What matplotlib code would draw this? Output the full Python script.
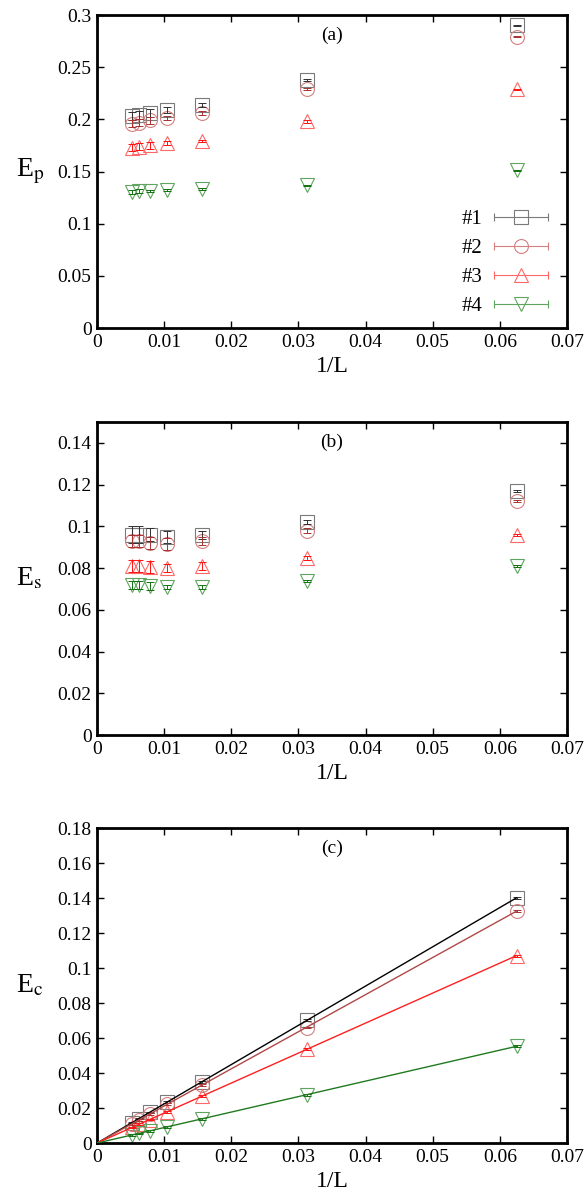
import numpy as np
import matplotlib
matplotlib.use("Agg")
import matplotlib.pyplot as plt
from matplotlib.lines import Line2D
from matplotlib.legend_handler import HandlerLine2D, HandlerTuple

plt.rcParams['font.family'] = ['Liberation Serif', 'DejaVu Serif']
plt.rcParams['mathtext.fontset'] = 'stix'

# system sizes, x axis is 1/L
L = [192, 160, 128, 96, 64, 32, 16]
inv_L = [1.0 / l for l in L]

labels = ['#1', '#2', '#3', '#4']

# (a) E_p
ep = [
    [0.203, 0.204, 0.206, 0.209, 0.214, 0.238, 0.290],
    [0.196, 0.197, 0.199, 0.201, 0.206, 0.229, 0.279],
    [0.173, 0.174, 0.175, 0.177, 0.179, 0.198, 0.229],
    [0.130, 0.131, 0.131, 0.132, 0.133, 0.137, 0.151],
]
ep_err = [
    [0.004, 0.004, 0.004, 0.003, 0.002, 0.001, 0.0005],
    [0.003, 0.003, 0.003, 0.002, 0.002, 0.001, 0.0005],
    [0.003, 0.003, 0.003, 0.002, 0.001, 0.001, 0.0005],
    [0.002, 0.002, 0.001, 0.001, 0.001, 0.0005, 0.0005],
]

# (b) E_s
es = [
    [0.096, 0.096, 0.096, 0.095, 0.096, 0.102, 0.117],
    [0.093, 0.093, 0.092, 0.0915, 0.093, 0.098, 0.112],
    [0.081, 0.081, 0.0805, 0.080, 0.081, 0.085, 0.096],
    [0.072, 0.072, 0.0715, 0.071, 0.071, 0.074, 0.081],
]
es_err = [
    [0.004, 0.004, 0.003, 0.003, 0.002, 0.001, 0.0005],
    [0.003, 0.003, 0.003, 0.003, 0.002, 0.001, 0.0005],
    [0.003, 0.003, 0.003, 0.002, 0.002, 0.001, 0.0005],
    [0.002, 0.002, 0.002, 0.001, 0.001, 0.0005, 0.0005],
]

# (c) E_c
ec = [
    [0.0117, 0.0140, 0.0175, 0.0234, 0.0350, 0.0703, 0.1400],
    [0.0110, 0.0133, 0.0166, 0.0221, 0.0331, 0.0660, 0.1326],
    [0.0089, 0.0107, 0.0134, 0.0178, 0.0268, 0.0537, 0.1070],
    [0.0046, 0.0055, 0.0069, 0.0092, 0.0138, 0.0274, 0.0554],
]
ec_err = [
    [0.0005, 0.0005, 0.0005, 0.0005, 0.0005, 0.0005, 0.0005],
    [0.0005, 0.0005, 0.0005, 0.0005, 0.0005, 0.0005, 0.0005],
    [0.0005, 0.0005, 0.0005, 0.0005, 0.0005, 0.0005, 0.0005],
    [0.0005, 0.0005, 0.0005, 0.0005, 0.0005, 0.0005, 0.0005],
]

markers = ['s', 'o', '^', 'v']
mcolors = ['#7a7a7a', '#d48080', '#ff6868', '#5fa55f']
ecolors = ['#303030', '#a83030', '#ff1010', '#107010']
lcolors = ['#000000', '#b04848', '#ff2020', '#207a20']
msizes = [10, 10, 10, 10]

fig = plt.figure(figsize=(5.85, 11.95), dpi=100)
boxes = [
    [0.166, 0.7255, 0.803, 0.2619],
    [0.166, 0.3849, 0.803, 0.2619],
    [0.166, 0.0435, 0.803, 0.2636],
]
panels = [
    (ep, ep_err, 0.3, np.arange(0, 0.31, 0.05), ['0', '0.05', '0.1', '0.15', '0.2', '0.25', '0.3'], 'p', '(a)'),
    (es, es_err, 0.15, np.arange(0, 0.151, 0.02), ['0', '0.02', '0.04', '0.06', '0.08', '0.1', '0.12', '0.14'], 's', '(b)'),
    (ec, ec_err, 0.18, np.arange(0, 0.181, 0.02), ['0', '0.02', '0.04', '0.06', '0.08', '0.1', '0.12', '0.14', '0.16', '0.18'], 'c', '(c)'),
]
xticks = np.arange(0, 0.071, 0.01)
xlabels = ['0', '0.01', '0.02', '0.03', '0.04', '0.05', '0.06', '0.07']

x = np.array(inv_L)
for k, (data, err, ymax, yt, ytl, sub, tag) in enumerate(panels):
    ax = fig.add_axes(boxes[k])
    for i in range(4):
        ax.errorbar(x, data[i], yerr=err[i], fmt='none', ecolor=ecolors[i],
                    elinewidth=0.7, capsize=3, capthick=0.7, zorder=3)
        ax.plot(x, data[i], linestyle='none', marker=markers[i], markersize=msizes[i],
                mfc='none', mec=mcolors[i], mew=0.8, zorder=2)
        if k == 2:
            # least squares fit through origin
            y = np.array(data[i])
            slope = np.sum(x * y) / np.sum(x * x)
            xf = np.array([0, x.max()])
            ax.plot(xf, slope * xf, color=lcolors[i], lw=1.0, zorder=4)
    ax.set_xlim(0, 0.07)
    ax.set_ylim(0, ymax)
    ax.set_xticks(xticks)
    ax.set_xticklabels(xlabels)
    ax.set_yticks(yt)
    ax.set_yticklabels(ytl)
    ax.tick_params(direction='in', top=True, right=True, length=5, width=1,
                   labelsize=14, pad=4)
    for s in ax.spines.values():
        s.set_linewidth(2)
    ax.set_xlabel('1/L', fontsize=17, labelpad=4)
    ax.set_ylabel(r'E$_{\mathrm{%s}}$' % sub, fontsize=20, rotation=0, labelpad=20, va='center')
    ax.text(0.5, 0.935, tag, transform=ax.transAxes, ha='center', va='center', fontsize=14)

    if k == 0:
        handles = []
        hmap = {}
        for i in range(4):
            hl = Line2D([0, 1], [0, 0], color=mcolors[i], lw=0.8, marker='|',
                        markersize=6, mew=0.8)
            hm = Line2D([0], [0], linestyle='none', marker=markers[i], markersize=msizes[i],
                        mfc='none', mec=mcolors[i], mew=0.8)
            hmap[hl] = HandlerLine2D(numpoints=2)
            hmap[hm] = HandlerLine2D(numpoints=1)
            handles.append((hl, hm))
        hmap[tuple] = HandlerTuple(ndivide=1)
        ax.legend(handles, labels, handler_map=hmap, loc='lower right', frameon=False,
                  markerfirst=False, fontsize=15, handlelength=3.2, labelspacing=0.45,
                  borderaxespad=0.4, handletextpad=0.25, bbox_to_anchor=(1.009, -0.015))

fig.savefig('out.png', dpi=100)
